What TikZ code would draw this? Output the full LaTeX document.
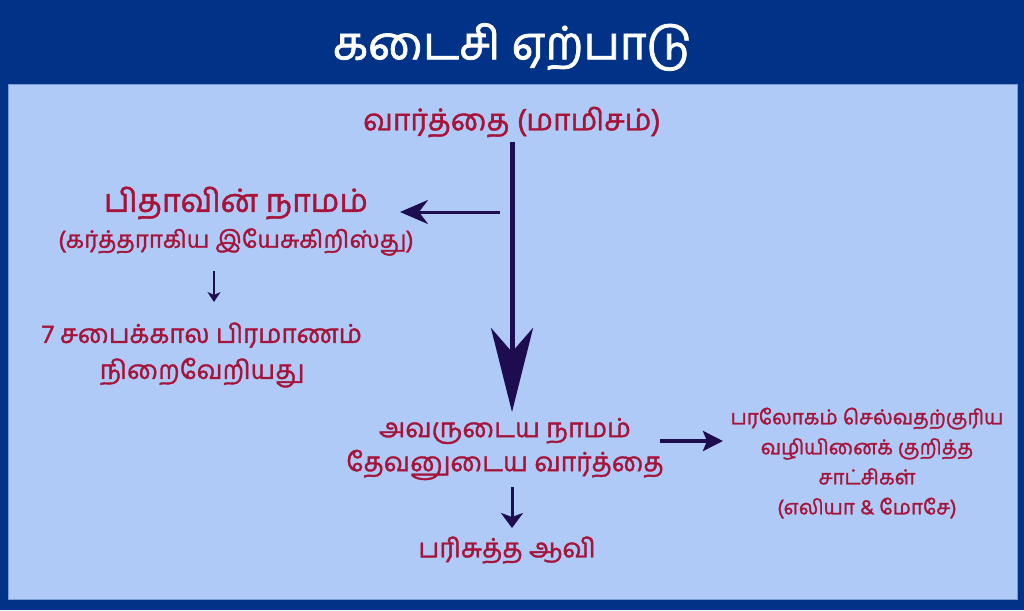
\documentclass[tikz,border=0pt]{standalone}
\usepackage{fontspec}
\newfontfamily\tam[Script=Tamil, FakeBold=1.4]{Hind Madurai}
\newfontfamily\tamt[Script=Tamil, FakeBold=1.6]{Hind Madurai}
\usetikzlibrary{arrows.meta}
\definecolor{darkbg}{RGB}{0,51,136}
\definecolor{lightbg}{RGB}{176,202,248}
\definecolor{txt}{RGB}{166,20,58}
\definecolor{arr}{RGB}{30,12,80}
\tikzset{
  lbl/.style={text=txt, inner sep=0pt, align=center, font=\tam},
  conn/.style={draw=arr, line width=#1},
}
\begin{document}
\begin{tikzpicture}[x=1pt,y=-1pt]
\useasboundingbox (0,0) rectangle (1024,610);
\fill[darkbg] (0,0) rectangle (1024,610);
\fill[lightbg] (8,84) rectangle (1017,599);
\draw[color=lightbg!70!darkbg, line width=1pt] (8,84) rectangle (1017,599);

\node[inner sep=0pt, text=white, font={\tamt\fontsize{46}{52}\selectfont}] (title) at (512,47) {கடைசி ஏற்பாடு};

\node[lbl, font={\tam\fontsize{30}{34}\selectfont}] (top) at (512,122) {வார்த்தை (மாமிசம்)};
\node[lbl, font={\tam\fontsize{32}{38}\selectfont}] (pitha) at (236,203) {பிதாவின் நாமம்};
\node[lbl, font={\tam\fontsize{24}{30}\selectfont}] (sub) at (236,242) {(கர்த்தராகிய இயேசுகிறிஸ்து)};
\node[lbl, font={\tam\fontsize{26}{36}\selectfont}] (sabai) at (202,355) {7 சபைக்கால பிரமாணம்\\நிறைவேறியது};
\node[lbl, font={\tam\fontsize{26.5}{34}\selectfont}] (avar) at (505,449) {அவருடைய நாமம்\\தேவனுடைய வார்த்தை};
\node[lbl, font={\tam\fontsize{26.5}{34}\selectfont}] (holy) at (507,550) {பரிசுத்த ஆவி};
\node[lbl, font={\tam\fontsize{20.5}{30}\selectfont}] (wit) at (867,463) {பரலோகம் செல்வதற்குரிய\\வழியினைக் குறித்த\\சாட்சிகள்\\(எலியா \& மோசே)};

\coordinate (branch) at (500,212);

% big arrow
\draw[conn=5pt, -{Stealth[length=84pt,width=42pt,inset=24pt]}]
  ([shift={(0,20)}]top.center) -- ([shift={(7,-37)}]avar.center);
% left arrow
\draw[conn=3pt, -{Stealth[length=28pt,width=24pt,inset=9pt]}]
  (branch) -- ([shift={(164,9)}]pitha.center);
% small down arrow
\draw[conn=2pt, -{Stealth[length=10pt,width=13pt,inset=3pt]}]
  ([shift={(-22,29)}]sub.center) -- ([shift={(12,-53)}]sabai.center);
% right arrow
\draw[conn=3.5pt, -{Stealth[length=20pt,width=20pt,inset=4pt]}]
  ([shift={(155,-8)}]avar.center) -- ([shift={(-144,-22)}]wit.center);
% lower down arrow
\draw[conn=3pt, -{Stealth[length=15pt,width=22pt,inset=4pt]}]
  ([shift={(7,38)}]avar.center) -- ([shift={(5,-22)}]holy.center);
\end{tikzpicture}
\end{document}
